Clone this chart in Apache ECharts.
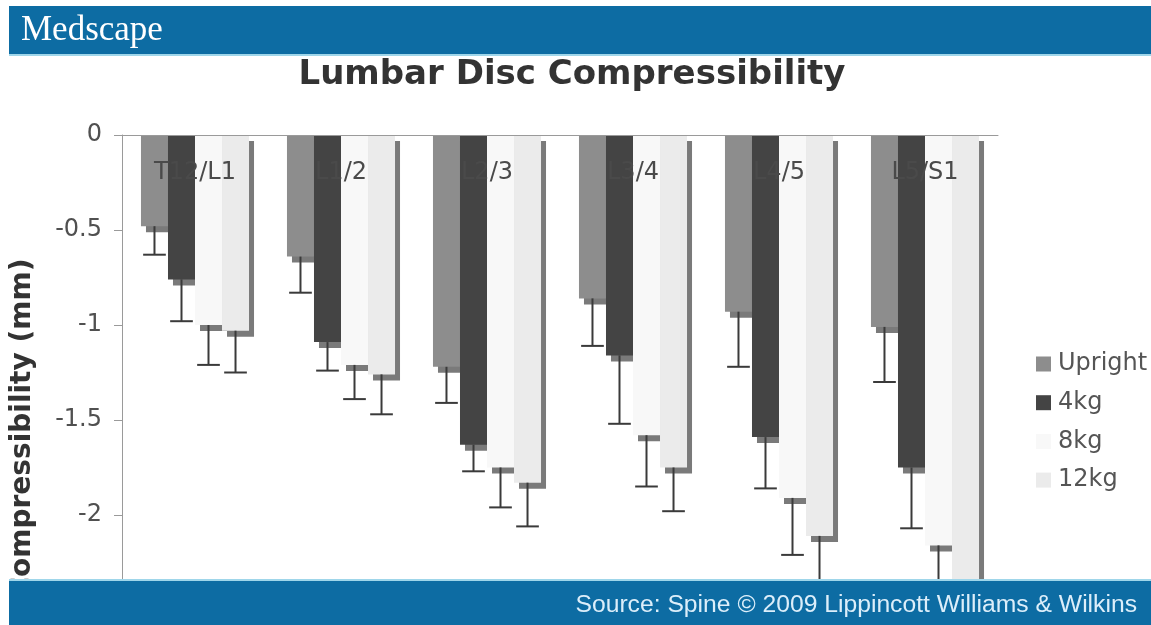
<!DOCTYPE html>
<html>
<head>
<meta charset="utf-8">
<script src="https://cdn.jsdelivr.net/npm/echarts@6/dist/echarts.min.js"></script>
<style>html,body{margin:0;padding:0;background:#fff;}#c{width:1151px;height:625px;}</style>
</head>
<body>
<div id="c"></div>
<script>
const categories = ['T12/L1', 'L1/2', 'L2/3', 'L3/4', 'L4/5', 'L5/S1'];
const seriesNames = ['Upright', '4kg', '8kg', '12kg'];
const upright = [-0.48, -0.64, -1.22, -0.86, -0.93, -1.01];
const uprightErr = [0.15, 0.19, 0.19, 0.25, 0.29, 0.29];
const kg4 = [-0.76, -1.09, -1.63, -1.16, -1.59, -1.75];
const kg4Err = [0.22, 0.15, 0.14, 0.36, 0.27, 0.32];
const kg8 = [-1.00, -1.21, -1.75, -1.58, -1.91, -2.16];
const kg8Err = [0.21, 0.18, 0.21, 0.27, 0.30, 0.25];
const kg12 = [-1.03, -1.26, -1.83, -1.75, -2.11, -2.45];
const kg12Err = [0.22, 0.21, 0.23, 0.23, 0.25, 0.25];
const yTicks = ['0', '-0.5', '-1', '-1.5', '-2', '-2.5'];

const values = [upright, kg4, kg8, kg12];
const errs = [uprightErr, kg4Err, kg8Err, kg12Err];
const colors = ['#8d8d8d', '#444444', '#f8f8f8', '#ebebeb'];
const GAP = 0.26;
const FONT = '"DejaVu Sans", Verdana, sans-serif';

const chart = echarts.init(document.getElementById('c'), null, {renderer: 'canvas'});

const barSeries = values.map((v, i) => ({
  name: seriesNames[i],
  type: 'bar',
  data: v,
  barGap: '0%',
  barCategoryGap: (GAP * 100) + '%',
  z: 2,
  itemStyle: {
    color: colors[i],
    shadowColor: '#7a7a7a',
    shadowBlur: 0,
    shadowOffsetX: 5,
    shadowOffsetY: 6
  }
}));

const errSeries = values.map((v, i) => ({
  type: 'custom',
  z: 5,
  silent: true,
  clip: false,
  data: v.map((val, k) => [k, val, errs[i][k]]),
  renderItem: function (params, api) {
    const c = api.value(0);
    const val = api.value(1);
    const e = api.value(2);
    const p0 = api.coord([c, val]);
    const p1 = api.coord([c, val - e]);
    const band = api.size([1, 0])[0];
    const bw = band * (1 - GAP) / 4;
    const x = p0[0] - 2 * bw + bw * (i + 0.5);
    const cap = bw * 0.42;
    const st = {stroke: '#3a3a3a', lineWidth: 2};
    return {
      type: 'group',
      children: [
        {type: 'line', shape: {x1: x, y1: p0[1], x2: x, y2: p1[1]}, style: st},
        {type: 'line', shape: {x1: x - cap, y1: p1[1], x2: x + cap, y2: p1[1]}, style: st}
      ]
    };
  }
}));

chart.setOption({
  animation: false,
  backgroundColor: '#ffffff',
  grid: {left: 122, right: 153, top: 135, bottom: 15, containLabel: false},
  legend: {
    data: seriesNames,
    orient: 'vertical',
    left: 1031,
    top: 347,
    itemWidth: 15,
    itemHeight: 15,
    itemGap: 14.7,
    icon: 'rect',
    itemStyle: {shadowColor: 'transparent', shadowOffsetX: 0, shadowOffsetY: 0},
    textStyle: {fontFamily: FONT, fontSize: 24, color: '#555555', padding: [0, 0, 0, 2]}
  },
  xAxis: {
    type: 'category',
    data: categories,
    position: 'top',
    z: 10,
    axisLine: {lineStyle: {color: '#9a9a9a', width: 1}},
    axisTick: {inside: true, length: 7, lineStyle: {color: '#9a9a9a'}},
    axisLabel: {inside: true, margin: 26, fontFamily: FONT, fontSize: 24, color: '#4a4a4a'},
    splitLine: {show: false}
  },
  yAxis: {
    type: 'value',
    min: -2.5,
    max: 0,
    interval: 0.5,
    axisLine: {show: true, lineStyle: {color: '#9a9a9a', width: 1}},
    axisTick: {show: true, length: 8, lineStyle: {color: '#9a9a9a'}},
    axisLabel: {
      margin: 20, fontFamily: FONT, fontSize: 24, color: '#505050',
      formatter: function (v) { const idx = Math.round(-v / 0.5); return yTicks[idx]; }
    },
    splitLine: {show: false}
  },
  series: barSeries.concat(errSeries),
  graphic: [
    {type: 'rect', z: 100, shape: {x: 9, y: 6, width: 1142, height: 49}, style: {fill: '#0d6ca3'}},
    {type: 'rect', z: 100, shape: {x: 9, y: 54, width: 1142, height: 2}, style: {fill: '#9fd6ea'}},
    {type: 'text', z: 101, x: 21, y: 31, style: {text: 'Medscape', fill: '#ffffff', font: '35px "Liberation Serif", "DejaVu Serif", serif', textVerticalAlign: 'middle', textAlign: 'left'}},
    {type: 'text', z: 50, x: 572, y: 75, style: {text: 'Lumbar Disc Compressibility', fill: '#333333', font: 'bold 34px ' + FONT, textAlign: 'center', textVerticalAlign: 'middle'}},
    {type: 'text', z: 50, x: 23, y: 428, rotation: Math.PI / 2, style: {text: 'Compressibility (mm)', fill: '#333333', font: 'bold 28px ' + FONT, textAlign: 'center', textVerticalAlign: 'middle'}},
    {type: 'rect', z: 100, shape: {x: 9, y: 579, width: 1142, height: 2}, style: {fill: '#9fd6ea'}},
    {type: 'rect', z: 100, shape: {x: 9, y: 581, width: 1142, height: 44}, style: {fill: '#0d6ca3'}},
    {type: 'text', z: 101, x: 1137, y: 605, style: {text: 'Source: Spine \u00a9 2009 Lippincott Williams & Wilkins', fill: '#dceefa', font: '24.7px "Liberation Sans", Arial, sans-serif', textAlign: 'right', textVerticalAlign: 'middle'}}
  ]
});
</script>
</body>
</html>
